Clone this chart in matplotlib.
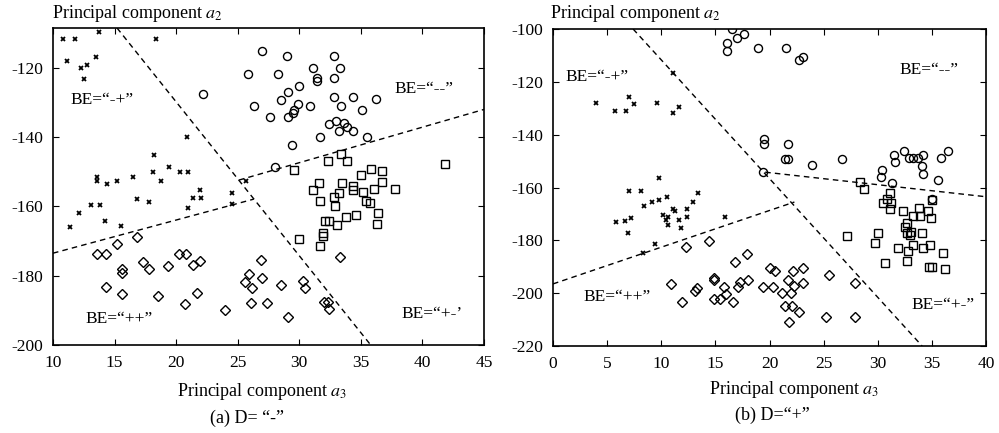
import numpy as np
import matplotlib
matplotlib.use("Agg")
import matplotlib.pyplot as plt

plt.rcParams['font.family'] = ['Liberation Serif', 'DejaVu Serif']
plt.rcParams['mathtext.fontset'] = 'stix'
plt.rcParams['axes.unicode_minus'] = False

# ---------------- Panel (a): D = "-" ----------------
a_mp = [(10.8,-111.8),(11.8,-111.8),(13.75,-109.6),(18.4,-111.6),(11.1,-117.9),(12.25,-120.0),
        (12.8,-119.3),(13.5,-116.9),(12.5,-123.1),(20.9,-140.1),(18.2,-145.3),(13.55,-151.6),
        (13.55,-152.8),(14.4,-153.6),(15.2,-152.8),(16.5,-151.6),(18.1,-150.2),(18.8,-152.6),
        (19.4,-148.5),(20.3,-150.2),(21.0,-150.2),(21.9,-155.4),(21.35,-157.6),(22.0,-157.6),
        (16.8,-157.8),(17.8,-158.6),(13.1,-159.5),(13.8,-159.5),(12.1,-161.8),(21.0,-160.5),
        (24.5,-156.2),(24.5,-159.2),(25.7,-152.8),(11.4,-165.8),(14.2,-164.1),(15.5,-165.6)]
a_mm = [(27.0,-115.0),(29.0,-116.7),(32.85,-116.5),(25.8,-121.8),(28.3,-121.8),(31.1,-120.1),
        (31.4,-122.9),(31.4,-123.8),(33.3,-120.1),(32.85,-122.9),(30.0,-125.1),(29.1,-127.1),
        (28.5,-129.2),(26.35,-131.1),(29.9,-130.3),(29.6,-132.1),(29.5,-133.0),(30.9,-131.1),
        (29.1,-134.3),(27.6,-134.3),(32.8,-128.3),(34.4,-128.3),(36.2,-129.0),(33.4,-130.9),
        (35.1,-132.1),(32.4,-136.1),(33.0,-135.2),(33.6,-135.9),(33.85,-137.1),(33.2,-138.1),
        (34.4,-138.2),(35.5,-140.1),(31.7,-140.1),(29.4,-142.4),(28.0,-148.5),(22.2,-127.6)]
a_pm = [(29.6,-149.4),(32.3,-147.0),(33.4,-144.8),(33.9,-147.0),(41.8,-147.8),(35.0,-150.9),
        (35.8,-149.1),(36.7,-149.9),(31.6,-153.1),(31.1,-155.4),(33.5,-153.1),(34.4,-154.2),
        (34.4,-155.2),(36.7,-153.0),(37.8,-154.9),(33.2,-156.2),(32.8,-157.3),(31.7,-158.3),
        (35.2,-155.9),(36.1,-155.0),(35.4,-158.3),(35.75,-159.0),(32.9,-160.0),(36.4,-161.9),
        (33.8,-163.1),(34.6,-162.4),(36.3,-165.2),(32.1,-164.3),(32.4,-164.3),(33.1,-165.3),
        (31.9,-167.7),(31.9,-168.5),(30.0,-169.4),(31.7,-171.4)]
a_pp = [(13.55,-173.8),(14.3,-173.8),(15.2,-170.9),(16.85,-168.9),(14.3,-183.2),(15.6,-178.1),
        (15.6,-179.1),(15.6,-185.3),(17.3,-175.9),(17.8,-178.0),(18.5,-186.0),(19.3,-177.1),
        (20.2,-173.7),(20.8,-173.7),(21.4,-176.9),(21.9,-175.7),(21.7,-184.9),(20.7,-188.2),
        (24.0,-189.9),(26.9,-175.6),(25.9,-179.5),(25.6,-181.7),(26.2,-183.6),(27.0,-180.8),
        (26.1,-188.0),(27.4,-188.0),(28.5,-182.7),(29.1,-191.8),(30.3,-181.5),(30.5,-183.6),
        (33.3,-174.5),(32.0,-187.5),(32.3,-187.5),(32.4,-189.7)]
a_bounds = [[(15.2,-108.5),(35.8,-200.0)],
            [(10.0,-173.5),(26.3,-157.9)],
            [(25.1,-152.4),(45.0,-132.0)]]
a_labels = [("BE=“-+”",14.0,-129.3),("BE=“--”",40.1,-126.1),
            ("BE=“++”",15.4,-192.6),("BE=“+-’",40.8,-191.0)]
a_xticks = [10,15,20,25,30,35,40,45]
a_yticks = [-120,-140,-160,-180,-200]

# ---------------- Panel (b): D = "+" ----------------
b_mp = [(11.06,-116.5),(3.97,-128.1),(5.73,-131.0),(6.74,-131.0),(7.05,-125.9),(7.48,-128.4),
        (9.58,-128.1),(11.1,-131.9),(11.67,-129.6),(9.82,-156.3),(7.05,-161.3),(8.13,-161.3),
        (8.43,-167.0),(9.17,-165.4),(9.82,-164.7),(10.5,-163.5),(11.06,-168.1),(11.3,-168.8),
        (12.35,-168.1),(12.96,-165.4),(13.42,-162.0),(15.9,-171.3),(5.79,-173.2),(6.65,-172.6),
        (7.2,-171.7),(6.9,-177.1),(10.19,-170.4),(10.4,-172.3),(10.6,-171.3),(10.6,-174.2),
        (11.64,-172.3),(11.8,-175.4),(12.35,-171.3),(8.34,-184.7),(9.42,-181.4)]
b_mm = [(16.5,-100.1),(16.1,-105.4),(16.1,-108.2),(16.97,-103.5),(17.6,-102.0),(18.97,-107.1),
        (21.5,-107.1),(22.75,-111.7),(23.1,-110.7),(19.5,-141.7),(19.5,-143.5),(21.7,-143.5),
        (21.4,-149.2),(21.7,-149.2),(23.9,-151.5),(26.7,-149.2),(19.4,-154.0),(31.5,-147.7),
        (31.6,-150.2),(32.4,-146.1),(32.9,-148.9),(33.3,-148.9),(33.7,-148.9),(34.2,-147.7),
        (34.06,-151.9),(34.15,-154.9),(30.4,-153.4),(30.3,-156.1),(31.3,-158.2),(35.8,-148.9),
        (36.5,-146.2),(35.6,-157.2),(35.0,-164.5)]
b_pm = [(28.4,-157.8),(28.7,-160.7),(31.1,-162.0),(30.9,-164.5),(31.2,-165.7),(30.5,-165.7),
        (31.1,-168.3),(35.0,-164.7),(32.3,-168.8),(33.8,-167.9),(34.6,-168.8),(33.3,-170.7),
        (33.9,-170.7),(34.9,-171.7),(32.7,-173.5),(32.5,-174.8),(32.7,-177.3),(33.0,-178.0),
        (33.1,-176.7),(34.1,-177.1),(33.3,-181.8),(34.15,-182.8),(34.8,-181.8),(31.9,-183.0),
        (32.8,-184.0),(36.05,-184.9),(30.05,-177.1),(29.75,-180.9),(27.2,-178.2),(30.7,-188.7),
        (32.7,-187.8),(34.7,-190.0),(35.0,-190.0),(36.2,-190.8)]
b_pp = [(12.26,-182.4),(14.4,-180.2),(10.9,-196.5),(11.9,-203.2),(13.1,-199.0),(13.3,-198.1),
        (14.87,-194.4),(14.87,-195.0),(14.87,-202.2),(15.4,-202.2),(15.8,-197.5),(15.95,-200.3),
        (16.65,-203.2),(16.8,-188.1),(17.1,-197.5),(17.9,-185.3),(17.3,-195.6),(18.0,-195.0),
        (20.0,-190.6),(20.5,-191.5),(19.4,-197.8),(20.3,-197.8),(21.2,-200.0),(21.7,-195.0),
        (22.2,-191.5),(23.1,-190.4),(22.3,-197.2),(23.1,-196.1),(22.0,-200.0),(21.4,-204.8),
        (22.05,-204.8),(22.7,-207.0),(21.8,-210.8),(25.5,-193.1),(27.9,-196.0),(25.2,-209.1),
        (27.9,-209.1)]
b_bounds = [[(7.4,-100.0),(34.1,-220.0)],
            [(0.0,-196.5),(22.3,-165.5)],
            [(19.6,-154.2),(40.0,-163.5)]]
b_labels = [("BE=“-+”",4.1,-118.0),("BE=“--”",34.7,-115.5),
            ("BE=“++”",5.9,-201.3),("BE=“+-”",36.0,-204.5)]
b_xticks = [0,5,10,15,20,25,30,35,40]
b_yticks = [-100,-120,-140,-160,-180,-200,-220]

W, H = 999, 433
fig = plt.figure(figsize=(W/100, H/100), dpi=100)

def px_rect(l, t, r, b):
    return [l/W, 1-b/H, (r-l)/W, (b-t)/H]

ax_a = fig.add_axes(px_rect(53, 28, 484, 345))
ax_b = fig.add_axes(px_rect(553, 29, 986, 346))

def draw(ax, mp, mm, pm, pp, bounds, labels, xlim, ylim, xticks, yticks):
    mp, mm, pm, pp = (np.array(s) for s in (mp, mm, pm, pp))
    ax.plot(mp[:,0], mp[:,1], 'x', color='k', ms=3.2, mew=1.3, ls='none')
    ax.plot(mm[:,0], mm[:,1], 'o', mfc='none', mec='k', ms=5.8, mew=1.0, ls='none')
    ax.plot(pm[:,0], pm[:,1], 's', mfc='none', mec='k', ms=5.4, mew=1.0, ls='none')
    ax.plot(pp[:,0], pp[:,1], 'D', mfc='none', mec='k', ms=4.6, mew=1.0, ls='none')
    for seg in bounds:
        s = np.array(seg)
        ax.plot(s[:,0], s[:,1], color='k', lw=1.0, ls=(0, (4, 3)))
    for txt, x, y in labels:
        ax.text(x, y, txt, ha='center', va='center', fontsize=12.5)
    ax.set_xlim(*xlim)
    ax.set_ylim(*ylim)
    ax.set_xticks(xticks)
    ax.set_yticks(yticks)
    ax.tick_params(direction='in', top=True, right=True, length=4, width=0.8,
                   labelsize=12.5, pad=7)
    for sp in ax.spines.values():
        sp.set_linewidth(1.2)

draw(ax_a, a_mp, a_mm, a_pm, a_pp, a_bounds, a_labels, (10, 45), (-200, -108.5), a_xticks, a_yticks)
draw(ax_b, b_mp, b_mm, b_pm, b_pp, b_bounds, b_labels, (0, 40), (-220, -100), b_xticks, b_yticks)

fig.text(52/W, 1-14/H, r"Principal component $a_2$", ha='left', va='center', fontsize=13)
fig.text(550/W, 1-14/H, r"Principal component $a_2$", ha='left', va='center', fontsize=13)
fig.text(262/W, 1-392/H, r"Principal component $a_3$", ha='center', va='center', fontsize=13)
fig.text(794/W, 1-390/H, r"Principal component $a_3$", ha='center', va='center', fontsize=13)
fig.text(247/W, 1-418/H, "(a) D= “-”", ha='center', va='center', fontsize=13)
fig.text(772/W, 1-415/H, "(b) D=“+”", ha='center', va='center', fontsize=13)

fig.savefig("out.png", dpi=100)
